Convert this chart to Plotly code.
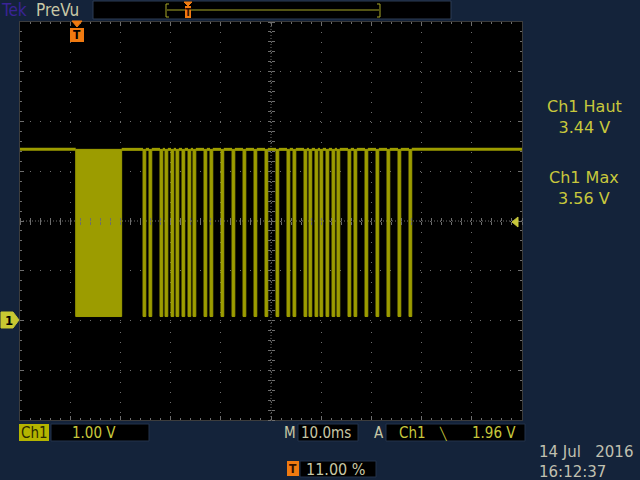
import plotly.graph_objects as go

time_div_ms = 10.0
volts_div = 1.0
x_range_ms = [-11.0, 89.0]      # time relative to trigger (11 % pre-trigger)
y_range_v = [-2.0, 6.0]         # volts relative to Ch1 ground marker
high_level_v = 3.44
low_level_v = 0.08
burst_start_ms = [0.10, 13.51, 14.70, 16.89, 17.89, 19.08, 20.08, 21.27, 22.47,
                  23.47, 25.66, 26.85, 29.04, 31.24, 33.43, 35.62, 37.81, 40.00,
                  42.19, 43.39, 45.58, 46.57, 47.77, 48.76, 49.96, 51.16, 52.15,
                  54.34, 55.54, 57.73, 59.92, 62.11, 64.30, 66.49]
burst_end_ms = [9.25, 14.06, 15.25, 17.44, 18.44, 19.63, 20.63, 21.82, 23.02,
                24.02, 26.21, 27.40, 29.59, 31.79, 33.98, 36.17, 38.36, 40.55,
                42.74, 43.94, 46.13, 47.12, 48.32, 49.31, 50.51, 51.71, 52.70,
                54.89, 56.09, 58.28, 60.47, 62.66, 64.85, 67.04]
meas_labels = ["Ch1 Haut", "Ch1 Max"]
meas_values = ["3.44 V", "3.56 V"]
ch1_scale = "1.00 V"
timebase = "10.0ms"
trig_source = "Ch1"
trig_level = "1.96 V"
trig_pos = "11.00 %"
date_text = "14 Jul\u00a0\u00a0 2016"
time_text = "16:12:37"

# ---------------- style ----------------
BG = "#14233a"
TRACE = "#9c9c00"
YEL = "#c8c83c"
BEIGE = "#c8c8a6"
ORANGE = "#f07a10"
GRID = "#6e6e6e"
FONT = "DejaVu Sans Condensed, Liberation Sans Narrow, DejaVu Sans, sans-serif"
FONT_WIDE = "DejaVu Sans, sans-serif"

L, R, T, B = 20, 118, 22, 60
W, H = 640, 480
PW, PH = W - L - R, H - T - B


def PX(x):
    return (x - L) / PW


def PY(y):
    return (H - B - y) / PH


# idle (high) level between bursts
ix, iy = [x_range_ms[0]], [high_level_v]
for s, e in zip(burst_start_ms, burst_end_ms):
    ix += [s, None, e]
    iy += [high_level_v, None, high_level_v]
ix.append(x_range_ms[1])
iy.append(high_level_v)

# carrier bursts appear as filled blocks
bx, by = [], []
for s, e in zip(burst_start_ms, burst_end_ms):
    bx += [s, s, e, e, s, None]
    by += [high_level_v, low_level_v, low_level_v, high_level_v, high_level_v, None]

fig = go.Figure()
fig.add_trace(go.Scatter(x=bx, y=by, mode="lines", fill="toself", fillcolor=TRACE,
                         line=dict(color=TRACE, width=1), hoverinfo="skip", showlegend=False))
fig.add_trace(go.Scatter(x=ix, y=iy, mode="lines", line=dict(color=TRACE, width=3),
                         connectgaps=False, hoverinfo="skip", showlegend=False))
# empty traces so the centre tick axes are drawn
for xa, ya in [("x2", "y"), ("x3", "y"), ("x", "y2"), ("x", "y3")]:
    fig.add_trace(go.Scatter(x=[], y=[], xaxis=xa, yaxis=ya, hoverinfo="skip", showlegend=False))

common = dict(showticklabels=False, zeroline=False, fixedrange=True)
fig.update_layout(
    width=W, height=H, margin=dict(l=L, r=R, t=T, b=B),
    paper_bgcolor=BG, plot_bgcolor="black", showlegend=False,
    font=dict(family=FONT, color=YEL),
    xaxis=dict(range=x_range_ms, tick0=x_range_ms[0], dtick=time_div_ms, showgrid=True,
               gridcolor=GRID, griddash="1px,9px", gridwidth=1, showline=True, linecolor="#3c3c3c",
               mirror="ticks", ticks="inside", ticklen=4, tickcolor=GRID,
               minor=dict(tick0=x_range_ms[0], dtick=time_div_ms / 5, ticks="inside", ticklen=2,
                          tickcolor=GRID, showgrid=False), **common),
    yaxis=dict(range=y_range_v, tick0=y_range_v[0], dtick=volts_div, showgrid=True,
               gridcolor=GRID, griddash="1px,9px", gridwidth=1, showline=True, linecolor="#3c3c3c",
               mirror="ticks", ticks="inside", ticklen=4, tickcolor=GRID,
               minor=dict(tick0=y_range_v[0], dtick=volts_div / 5, ticks="inside", ticklen=2,
                          tickcolor=GRID, showgrid=False), **common),
    xaxis2=dict(overlaying="x", anchor="free", position=0.5, side="bottom", range=x_range_ms,
                tick0=x_range_ms[0], dtick=time_div_ms / 5, ticks="outside", ticklen=3,
                tickcolor=GRID, showgrid=False, showline=False, **common),
    xaxis3=dict(overlaying="x", anchor="free", position=0.5, side="top", range=x_range_ms,
                tick0=x_range_ms[0], dtick=time_div_ms / 5, ticks="outside", ticklen=3,
                tickcolor=GRID, showgrid=False, showline=False, **common),
    yaxis2=dict(overlaying="y", anchor="free", position=0.5, side="left", range=y_range_v,
                tick0=y_range_v[0], dtick=volts_div / 5, ticks="outside", ticklen=3,
                tickcolor=GRID, showgrid=False, showline=False, **common),
    yaxis3=dict(overlaying="y", anchor="free", position=0.5, side="right", range=y_range_v,
                tick0=y_range_v[0], dtick=volts_div / 5, ticks="outside", ticklen=3,
                tickcolor=GRID, showgrid=False, showline=False, **common),
)

shapes = []
# centre cross of the graticule (denser dots)
shapes.append(dict(type="line", xref="x domain", yref="y domain", x0=0.5, x1=0.5, y0=0, y1=1,
                   line=dict(color=GRID, width=1, dash="1px,2px"), layer="below"))
shapes.append(dict(type="line", xref="x domain", yref="y domain", x0=0, x1=1, y0=0.5, y1=0.5,
                   line=dict(color=GRID, width=1, dash="1px,2px"), layer="below"))


def rect(x0, y0, x1, y1, fill, line="rgba(0,0,0,0)"):
    shapes.append(dict(type="rect", xref="paper", yref="paper", x0=PX(x0), x1=PX(x1),
                       y0=PY(y1), y1=PY(y0), fillcolor=fill, line=dict(color=line, width=1),
                       layer="above"))


def poly(pts, fill):
    d = "M " + " L ".join(f"{PX(x):.5f},{PY(y):.5f}" for x, y in pts) + " Z"
    shapes.append(dict(type="path", xref="paper", yref="paper", path=d, fillcolor=fill,
                       line=dict(color=fill, width=1), layer="above"))


def pline(pts, color, width=1):
    d = "M " + " L ".join(f"{PX(x):.5f},{PY(y):.5f}" for x, y in pts)
    shapes.append(dict(type="path", xref="paper", yref="paper", path=d,
                       line=dict(color=color, width=width), layer="above"))


# record-view bar at the top
rect(93, 1, 451, 19, "black", "#2c3c54")
pline([(167, 10), (379, 10)], "#a8a828")
pline([(169, 4), (166, 4), (166, 17), (169, 17)], "#a8a828")
pline([(377, 4), (380, 4), (380, 17), (377, 17)], "#a8a828")
poly([(184, 2), (192, 2), (188, 6)], ORANGE)
rect(185, 6, 191, 18, ORANGE)
# trigger position marker
poly([(72, 21), (82, 21), (77, 27)], ORANGE)
rect(70, 28, 84, 42, ORANGE)
# trigger level arrow on the right edge
poly([(512, 222), (518, 217), (518, 227)], YEL)
# ground marker
poly([(1, 312), (13, 312), (19, 320), (13, 328), (1, 328)], "#c8c832")
# bottom readout boxes
rect(19, 424, 49, 441, "#b4b400")
rect(51, 424, 149, 441, "black", "#22324a")
rect(298, 424, 358, 441, "black", "#22324a")
rect(386, 424, 525, 441, "black", "#22324a")
rect(287, 461, 299, 476, ORANGE)
rect(300, 461, 376, 477, "black", "#22324a")

ann = []


def text(x, y, s, color=YEL, size=15, anchor="left", bold=False, family=FONT):
    if bold:
        s = f"<b>{s}</b>"
    ann.append(dict(xref="paper", yref="paper", x=PX(x), y=PY(y), text=s, showarrow=False,
                    xanchor=anchor, yanchor="middle", align="center" if anchor == "center" else "left",
                    font=dict(size=size, color=color, family=family)))


text(-1, 10, "Tek", "#3a2496", 17)
text(34, 10, "PreVu", BEIGE, 17)
text(188, 12, "T", "#301000", 10, "center", True)
text(77, 35, "T", "black", 12, "center", True)
text(9, 320, "1", "black", 13, "center", True)
text(584, 117, meas_labels[0] + "<br>" + meas_values[0], YEL, 16, "center", family=FONT_WIDE)
text(584, 188, meas_labels[1] + "<br>" + meas_values[1], YEL, 16, "center", family=FONT_WIDE)
text(19, 433, "Ch1", "#2a2a00", 15)
text(70, 433, ch1_scale, YEL, 15)
text(282, 433, "M", BEIGE, 15)
text(299, 433, timebase, BEIGE, 15)
text(372, 433, "A", BEIGE, 15)
text(397, 433, trig_source, YEL, 15)
text(437, 433, "\u2572", YEL, 12)
text(470, 433, trig_level, YEL, 15)
text(293, 469, "T", "#301000", 12, "center", True)
text(304, 469, trig_pos, BEIGE, 16)
text(537, 462, date_text + "<br>" + time_text, "#c0c0b0", 15, family=FONT_WIDE)

fig.update_layout(shapes=shapes, annotations=ann)
fig.write_html("out.html", config={"displayModeBar": False},
               post_script="document.body.style.margin='0px';document.body.style.overflow='hidden';")
